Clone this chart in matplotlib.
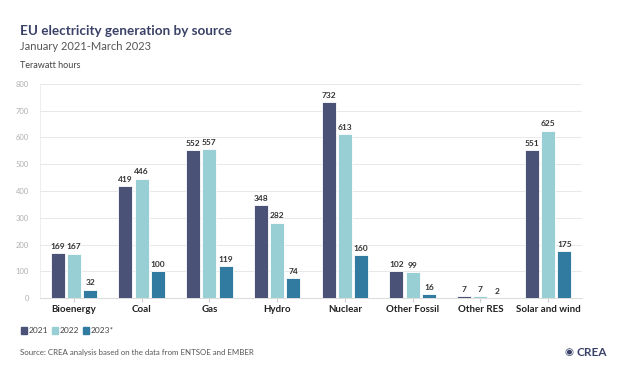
import numpy as np
import matplotlib.pyplot as plt
from matplotlib.patches import Rectangle

# data
categories = ['Bioenergy', 'Coal', 'Gas', 'Hydro', 'Nuclear',
              'Other Fossil', 'Other RES', 'Solar and wind']
years = ['2021', '2022', '2023*']
v2021 = [169, 419, 552, 348, 732, 102, 7, 551]
v2022 = [167, 446, 557, 282, 613, 99, 7, 625]
v2023 = [32, 100, 119, 74, 160, 16, 2, 175]
yticks = [0, 100, 200, 300, 400, 500, 600, 700, 800]

colors = ['#4a5278', '#98cfd4', '#317aa0']
plt.rcParams['font.family'] = ['Lato', 'DejaVu Sans']

fig = plt.figure(figsize=(6.31, 3.76), dpi=100)
W, H = 631, 376
ax = fig.add_axes([40 / W, 1 - 298.3 / H, 542 / W, (298.3 - 83.7) / H])

x = np.arange(len(categories))
bw = 0.21
step = 0.24
for k, vals in enumerate([v2021, v2022, v2023]):
    pos = x + (k - 1) * step
    ax.bar(pos, vals, bw, color=colors[k], edgecolor='white',
           linewidth=0.6, zorder=3, label=years[k])
    for p, v in zip(pos, vals):
        ax.text(p, v + 12, str(v), ha='center', va='bottom', fontsize=6,
                fontweight='bold', color='#333333')

ax.set_xlim(-0.5, len(categories) - 0.5)
ax.set_ylim(0, 800)
ax.set_yticks(yticks)
ax.set_yticklabels([str(t) for t in yticks], fontsize=5.5, color='#b0b0b0')
ax.set_xticks(x)
ax.set_xticklabels(categories, fontsize=7, fontweight='bold', color='#222222')
ax.tick_params(axis='y', length=0, pad=8)
ax.tick_params(axis='x', length=3, color='#cccccc', pad=2)
ax.grid(axis='y', color='#e8e8e8', linewidth=0.7, zorder=0)
for s in ['top', 'right', 'left']:
    ax.spines[s].set_visible(False)
ax.spines['bottom'].set_color('#dddddd')
ax.axvline(-0.5, color='#eeeeee', linewidth=0.7, zorder=0)

# titles
fig.text(20 / W, 1 - 31 / H, 'EU electricity generation by source', fontsize=9.7,
         fontweight='bold', color='#3b4268', va='center')
fig.text(20 / W, 1 - 46 / H, 'January 2021-March 2023', fontsize=8,
         color='#555555', va='center')
fig.text(20 / W, 1 - 65 / H, 'Terawatt hours', fontsize=6.5, color='#444444',
         va='center')

# legend
lx = 20.7
for k, lab in enumerate(years):
    fig.patches.append(Rectangle((lx / W, 1 - 334 / H), 6 / W, 7.5 / H,
                                 transform=fig.transFigure, color=colors[k]))
    fig.text((lx + 7.5) / W, 1 - 330.2 / H, lab, fontsize=6, color='#444444',
             va='center')
    lx += 31.3

fig.text(20.5 / W, 1 - 352 / H,
         'Source: CREA analysis based on the data from ENTSOE and EMBER',
         fontsize=5.7, color='#555555', va='center')
fig.text(607 / W, 1 - 352 / H, 'CREA', fontsize=8.5, fontweight='bold',
         color='#3b4268', ha='right', va='center')
fig.text(573 / W, 1 - 352 / H, '\u25c9', fontsize=7.5, color='#3b4268',
         ha='right', va='center', family='DejaVu Sans')

fig.savefig('out.png', dpi=100)
